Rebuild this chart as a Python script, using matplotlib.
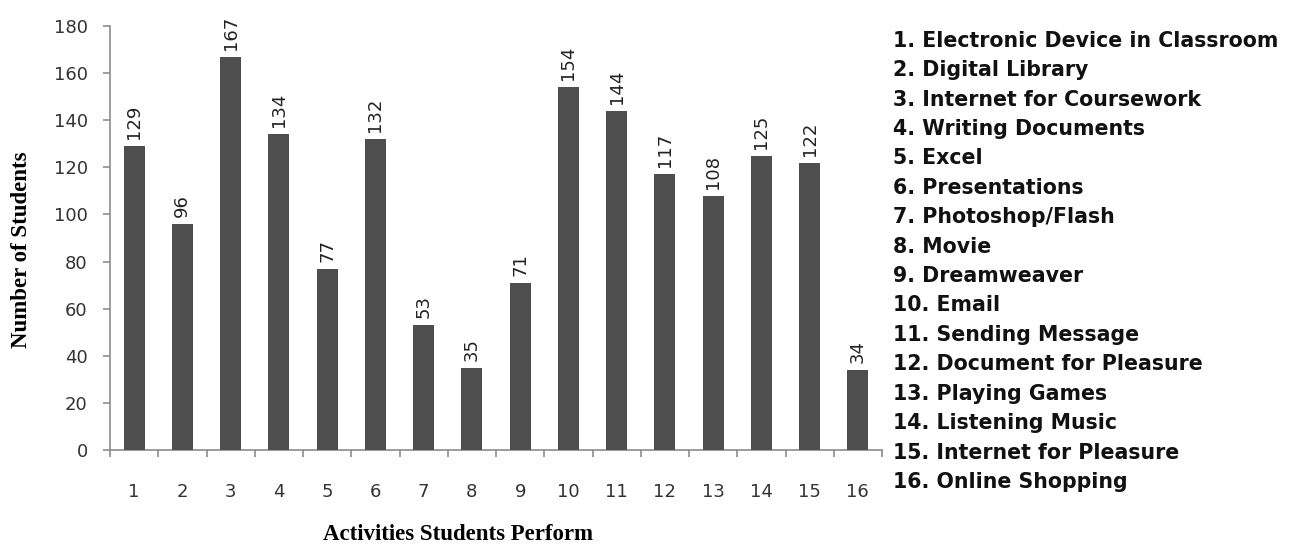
import matplotlib
matplotlib.use("Agg")
import matplotlib.pyplot as plt
import numpy as np

categories = [str(i) for i in range(1, 17)]
values = [129, 96, 167, 134, 77, 132, 53, 35, 71, 154, 144, 117, 108, 125, 122, 34]
legend_labels = [
    "1. Electronic Device in Classroom",
    "2. Digital Library",
    "3. Internet for Coursework",
    "4. Writing Documents",
    "5. Excel",
    "6. Presentations",
    "7. Photoshop/Flash",
    "8. Movie",
    "9. Dreamweaver",
    "10. Email",
    "11. Sending Message",
    "12. Document for Pleasure",
    "13. Playing Games",
    "14. Listening Music",
    "15. Internet for Pleasure",
    "16. Online Shopping",
]
y_ticks = list(range(0, 181, 20))

W, H = 1298, 546
fig = plt.figure(figsize=(W / 100, H / 100), dpi=100)
ax = fig.add_axes([110 / W, 96 / H, 772 / W, 424 / H])

x = np.arange(1, len(values) + 1)
ax.bar(x, values, width=0.44, color="#4e4e4e", zorder=3)

for xi, v in zip(x, values):
    ax.annotate(str(v), (xi, v), xytext=(0, 5), textcoords="offset points",
                rotation=90, ha="center", va="bottom", fontsize=13,
                color="#222222", family="DejaVu Sans")

ax.set_xlim(0.5, len(values) + 0.5)
ax.set_ylim(0, 180)
ax.set_yticks(y_ticks)
ax.set_xticks(x)
ax.set_xticklabels(categories)
ax.set_xticks(np.arange(0.5, len(values) + 1, 1), minor=True)

for s in ["top", "right"]:
    ax.spines[s].set_visible(False)
for s in ["left", "bottom"]:
    ax.spines[s].set_color("#8c8c8c")
    ax.spines[s].set_linewidth(1.2)

ax.tick_params(axis="y", direction="out", length=5, width=1.2, color="#8c8c8c",
               labelsize=13, labelcolor="#333333", pad=11)
ax.tick_params(axis="x", which="major", length=0, labelsize=13,
               labelcolor="#333333", pad=24)
ax.tick_params(axis="x", which="minor", direction="out", length=5, width=1.2,
               color="#8c8c8c")

fig.text(22 / W, 1 - 250 / H, "Number of Students", rotation=90, ha="center",
         va="center", family="Liberation Serif", fontweight="bold", fontsize=16.5)
fig.text(458 / W, 1 - 535 / H, "Activities Students Perform", ha="center",
         va="center", family="Liberation Serif", fontweight="bold", fontsize=16.5)

base0 = 46.7
step = (488 - 46.7) / 15
for i, lab in enumerate(legend_labels):
    yb = base0 + i * step
    fig.text(893 / W, 1 - yb / H, lab, ha="left", va="baseline",
             fontsize=14.8, fontweight="bold", color="#111111",
             family="DejaVu Sans")

fig.savefig("out.png", dpi=100)
